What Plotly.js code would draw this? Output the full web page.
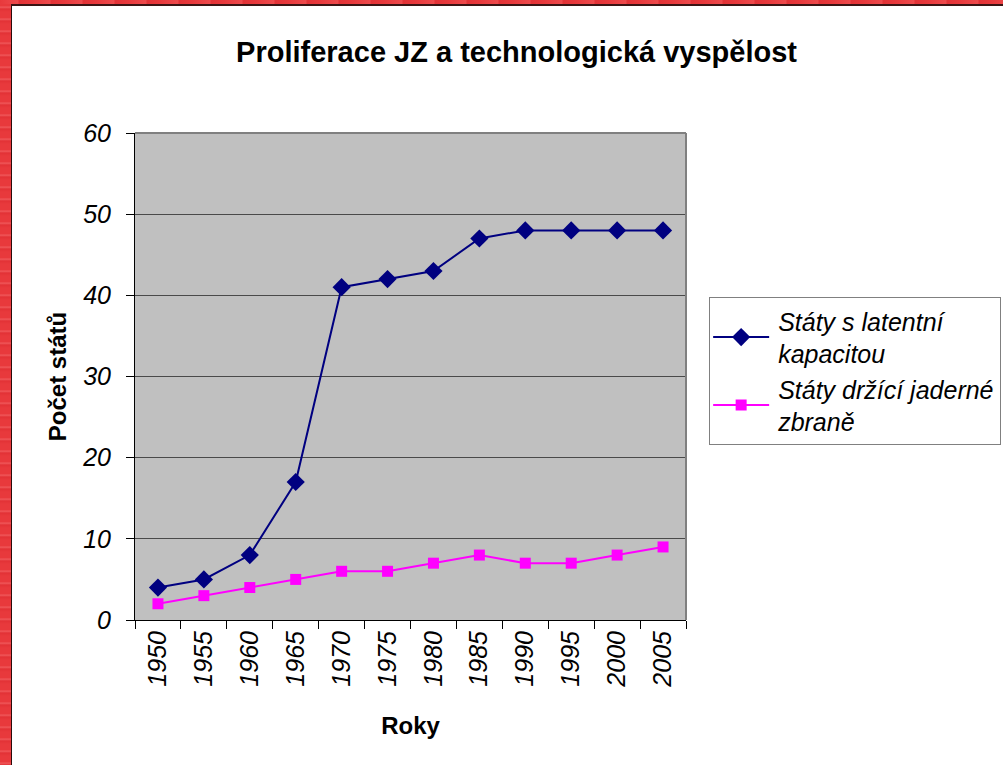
<!DOCTYPE html>
<html>
<head>
<meta charset="utf-8">
<script src="https://cdn.plot.ly/plotly-3.0.1.min.js"></script>
<style>
  html, body { margin: 0; padding: 0; background: #ffffff; }
  #bg { position: absolute; left: 0; top: 0; width: 1003px; height: 765px; overflow: hidden; }
  #stripL { position: absolute; left: 0; top: 0; width: 11px; height: 765px;
    background: repeating-linear-gradient(180deg, #e8393c 0px, #e8393c 6px, #f05a5c 7px, #e23236 9px, #e8393c 12px); }
  #stripT { position: absolute; left: 0; top: 0; width: 1003px; height: 4px;
    background: repeating-linear-gradient(90deg, #e8393c 0px, #ee4a4c 18px, #e23236 19px, #e8393c 32px); }
  #lineL { position: absolute; left: 11px; top: 4px; width: 1px; height: 761px; background: #2a0c0c; }
  #lineT { position: absolute; left: 11px; top: 4px; width: 992px; height: 2px; background: #3a1414; }
  #chart { position: absolute; left: 0; top: 0; width: 1003px; height: 765px; }
</style>
</head>
<body>
<div id="bg"><div id="stripL"></div><div id="stripT"></div><div id="lineL"></div><div id="lineT"></div></div>
<div id="chart"></div>
<script>
const years = ['1950','1955','1960','1965','1970','1975','1980','1985','1990','1995','2000','2005'];
const latentCapacity = [4, 5, 8, 17, 41, 42, 43, 47, 48, 48, 48, 48];
const nuclearWeapons = [2, 3, 4, 5, 6, 6, 7, 8, 7, 7, 8, 9];
const seriesNames = ['Státy s latentní<br>kapacitou', 'Státy držící jaderné<br>zbraně'];
const yTicks = [0, 10, 20, 30, 40, 50, 60];

const fontFam = 'Arial, "Liberation Sans", sans-serif';

const traces = [
  { x: years, y: latentCapacity, name: seriesNames[0], type: 'scatter', mode: 'lines+markers',
    line: { color: '#000080', width: 2 },
    marker: { symbol: 'diamond', size: 14, color: '#000080' } },
  { x: years, y: nuclearWeapons, name: seriesNames[1], type: 'scatter', mode: 'lines+markers',
    line: { color: '#FF00FF', width: 2 },
    marker: { symbol: 'square', size: 11, color: '#FF00FF' } }
];

const layout = {
  width: 1003, height: 765,
  margin: { l: 135, r: 317, t: 133, b: 145, autoexpand: false },
  paper_bgcolor: 'rgba(0,0,0,0)',
  plot_bgcolor: '#C0C0C0',
  font: { family: fontFam, color: '#000000' },
  title: { text: '<b>Proliferace JZ a technologická vyspělost</b>', font: { size: 29, family: fontFam },
    xref: 'container', x: 0.515, xanchor: 'center', yref: 'container', y: 0.932, yanchor: 'middle' },
  xaxis: {
    type: 'category', categoryorder: 'array', categoryarray: years,
    range: [-0.5, 11.5],
    tickson: 'boundaries', ticks: 'outside', ticklen: 8, tickcolor: '#000', tickwidth: 1,
    showgrid: false, showline: true, linecolor: '#000', linewidth: 1,
    tickangle: -90, tickfont: { size: 25, style: 'italic', family: fontFam },
    title: { text: '<b>Roky</b>', font: { size: 24, family: fontFam }, standoff: 30 },
    zeroline: false, fixedrange: true, automargin: false
  },
  yaxis: {
    range: [0, 60], tickvals: yTicks, ticktext: yTicks.map(String),
    ticks: 'outside', ticklen: 8, tickcolor: '#000',
    showgrid: true, gridcolor: '#4a4a4a', gridwidth: 1,
    showline: true, linecolor: '#000', linewidth: 1, zeroline: false,
    tickfont: { size: 25, style: 'italic', family: fontFam },
    ticklabelstandoff: 10,
    title: { text: '<b>Počet států</b>', font: { size: 24, family: fontFam }, standoff: 8 },
    fixedrange: true, automargin: false
  },
  legend: {
    x: 1.042, xanchor: 'left', y: 0.663, yanchor: 'top',
    bgcolor: '#ffffff', bordercolor: '#808080', borderwidth: 1,
    font: { size: 25, style: 'italic', family: fontFam },
    tracegroupgap: 0, itemwidth: 58
  },
  shapes: [
    { type: 'line', xref: 'paper', yref: 'paper', x0: 0, x1: 1, y0: 1, y1: 1, line: { color: '#808080', width: 2 }, layer: 'above' },
    { type: 'line', xref: 'paper', yref: 'paper', x0: 1, x1: 1, y0: 0, y1: 1, line: { color: '#808080', width: 2 }, layer: 'above' }
  ],
  showlegend: true
};

Plotly.newPlot('chart', traces, layout, { displayModeBar: false, staticPlot: true }).then(function (gd) {
  // lengthen legend sample lines to match the Excel-style legend keys
  gd.querySelectorAll('.legend .legendlines path').forEach(function (p) {
    p.setAttribute('d', 'M3,0h56');
  });
  gd.querySelectorAll('.legend .legendpoints path').forEach(function (p) {
    p.setAttribute('transform', 'translate(31,0)');
  });
});
</script>
</body>
</html>
